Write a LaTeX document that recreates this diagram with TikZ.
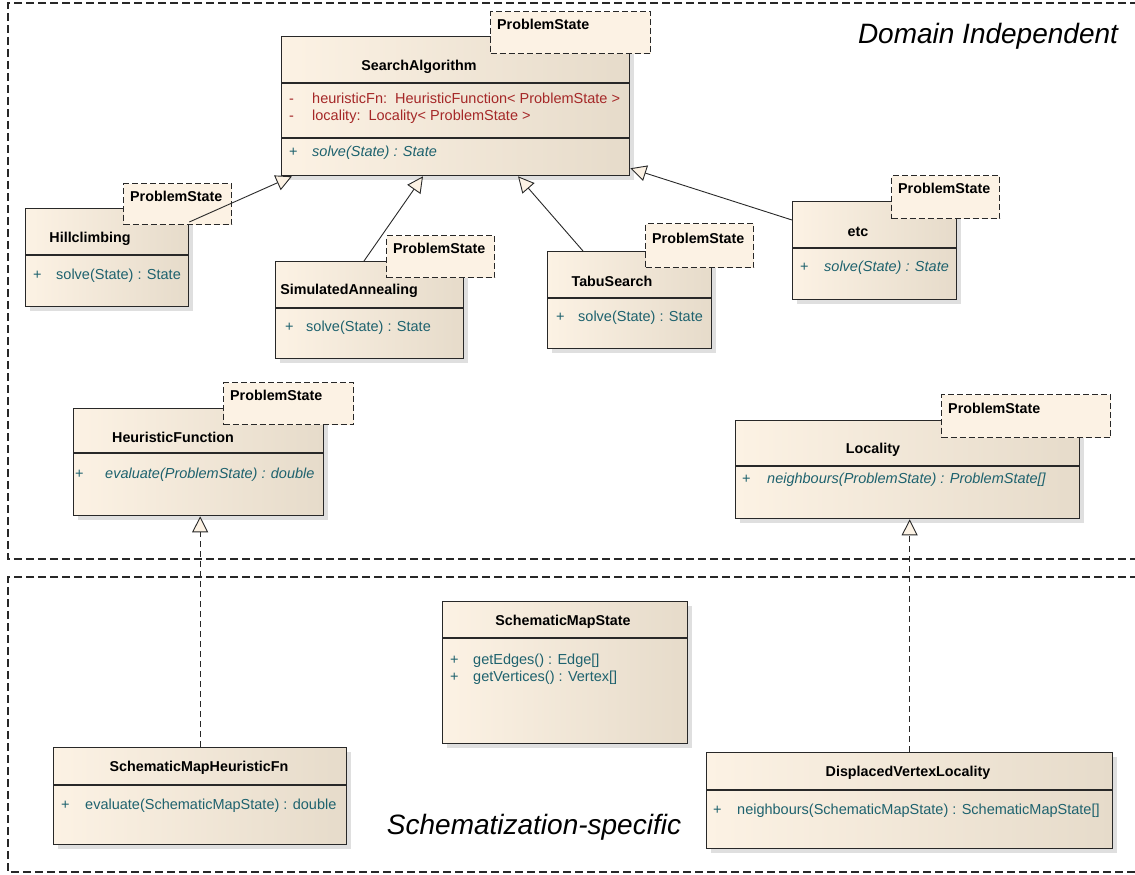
\documentclass[tikz,border=0pt]{standalone}
\usepackage{fontspec}
\setmainfont{Liberation Sans}
\usetikzlibrary{arrows.meta,shadows}
\definecolor{classfill}{RGB}{252,242,228}
\definecolor{classshade}{RGB}{230,219,202}
\definecolor{attrcol}{RGB}{165,40,40}
\definecolor{opcol}{RGB}{30,98,110}
\definecolor{edgecol}{RGB}{40,40,40}
\tikzset{
  classbox/.style={draw=edgecol, line width=1.3pt, left color=classfill, right color=classshade,
    anchor=north west, inner sep=0pt, drop shadow={shadow xshift=4pt, shadow yshift=-4pt, fill=black!25}},
  tmplbox/.style={draw=edgecol, dash pattern=on 6pt off 3pt, line width=1.3pt, fill=classfill,
    anchor=north west, inner sep=0pt},
  tmpltext/.style={font=\bfseries\fontsize{14.3}{16}\selectfont, anchor=west, inner sep=0pt},
  classname/.style={font=\bfseries\fontsize{14.3}{16}\selectfont, inner sep=0pt},
  attrline/.style={text=attrcol, font=\fontsize{14.5}{16}\selectfont, anchor=west, inner sep=0pt},
  opline/.style={text=opcol, font=\fontsize{14.5}{16}\selectfont, anchor=west, inner sep=0pt},
  sepline/.style={draw=edgecol, line width=1.3pt},
  inherit/.style={draw=edgecol, line width=0.9pt, -{Triangle[length=16pt, width=16pt, fill=classfill]}},
  realize/.style={inherit, dash pattern=on 6pt off 4pt},
  pkgframe/.style={draw=edgecol, line width=1.4pt, dash pattern=on 8pt off 4pt},
  pkglabel/.style={font=\itshape\fontsize{28}{32}\selectfont, inner sep=0pt}
}
\begin{document}
\begin{tikzpicture}[x=1pt, y=-1pt]
  \useasboundingbox (0,0) rectangle (1135,875);
  \draw[pkgframe] (1150,3) -- (8,3) -- (8,559) -- (1150,559);
  \draw[pkgframe] (1150,577) -- (8,577) -- (8,872) -- (1150,872);
  \node[pkglabel] (domlabel) at (988,36) {Domain Independent};
  \node[pkglabel] (speclabel) at (534,827) {Schematization-specific};

  \node[classbox, minimum width=348, minimum height=139] (search) at (281,36) {};
  \draw[sepline] ([yshift=-47pt]search.north west) -- ([yshift=-47pt]search.north east);
  \draw[sepline] ([yshift=-102pt]search.north west) -- ([yshift=-102pt]search.north east);
  \node[classname] (searchname) at (419,67) {SearchAlgorithm};
  \node[attrline] (searchattr1) at (289,98) {\makebox[23pt][l]{-}heuristicFn:\ \ HeuristicFunction< ProblemState >};
  \node[attrline] (searchattr2) at (289,117) {\makebox[23pt][l]{-}locality:\ \ Locality< ProblemState >};
  \node[opline] (searchop) at (289,153) {\makebox[23pt][l]{+}\textit{solve(State) : State}};
  \node[tmplbox, minimum width=160, minimum height=42] (searcht) at (490,11) {};
  \node[tmpltext] (searchtt) at (497,24) {ProblemState};

  \node[classbox, minimum width=163, minimum height=98] (hill) at (25,208) {};
  \draw[sepline] ([yshift=-47pt]hill.north west) -- ([yshift=-47pt]hill.north east);
  \node[classname] (hillname) at (90,239) {Hillclimbing};
  \node[opline] (hillop) at (33,276) {\makebox[23pt][l]{+}solve(State) : State};
  \node[tmplbox, minimum width=108, minimum height=41] (hillt) at (123,183) {};
  \node[tmpltext] (hilltt) at (130,196) {ProblemState};

  \node[classbox, minimum width=188, minimum height=97] (simann) at (275,261) {};
  \draw[sepline] ([yshift=-47pt]simann.north west) -- ([yshift=-47pt]simann.north east);
  \node[classname] (simannname) at (349,291) {SimulatedAnnealing};
  \node[opline] (simannop) at (285,328) {\makebox[21pt][l]{+}solve(State) : State};
  \node[tmplbox, minimum width=108, minimum height=42] (simannt) at (386,235) {};
  \node[tmpltext] (simanntt) at (393,248) {ProblemState};

  \node[classbox, minimum width=164, minimum height=97] (tabu) at (547,251) {};
  \draw[sepline] ([yshift=-47pt]tabu.north west) -- ([yshift=-47pt]tabu.north east);
  \node[classname] (tabuname) at (612,281) {TabuSearch};
  \node[opline] (tabuop) at (556,318) {\makebox[22pt][l]{+}solve(State) : State};
  \node[tmplbox, minimum width=108, minimum height=44] (tabut) at (645,223) {};
  \node[tmpltext] (tabutt) at (652,238) {ProblemState};

  \node[classbox, minimum width=164, minimum height=98] (etc) at (792,201) {};
  \draw[sepline] ([yshift=-47pt]etc.north west) -- ([yshift=-47pt]etc.north east);
  \node[classname] (etcname) at (858,232) {etc};
  \node[opline] (etcop) at (800,268) {\makebox[24pt][l]{+}\textit{solve(State) : State}};
  \node[tmplbox, minimum width=108, minimum height=43] (etct) at (891,175) {};
  \node[tmpltext] (etctt) at (898,188) {ProblemState};

  \node[classbox, minimum width=250, minimum height=107] (heur) at (73,408) {};
  \draw[sepline] ([yshift=-45pt]heur.north west) -- ([yshift=-45pt]heur.north east);
  \node[classname] (heurname) at (173,437) {HeuristicFunction};
  \node[opline] (heurop) at (75,475) {\makebox[30pt][l]{+}\textit{evaluate(ProblemState) : double}};
  \node[tmplbox, minimum width=130, minimum height=42] (heurt) at (223,382) {};
  \node[tmpltext] (heurtt) at (230,395) {ProblemState};

  \node[classbox, minimum width=344, minimum height=98] (loc) at (735,420) {};
  \draw[sepline] ([yshift=-46pt]loc.north west) -- ([yshift=-46pt]loc.north east);
  \node[classname] (locname) at (873,450) {Locality};
  \node[opline] (locop) at (742,480) {\makebox[25pt][l]{+}\textit{neighbours(ProblemState) : ProblemState[]}};
  \node[tmplbox, minimum width=169, minimum height=43] (loct) at (941,394) {};
  \node[tmpltext] (loctt) at (948,408) {ProblemState};

  \node[classbox, minimum width=245, minimum height=142] (mapstate) at (442,601) {};
  \draw[sepline] ([yshift=-37pt]mapstate.north west) -- ([yshift=-37pt]mapstate.north east);
  \node[classname] (mapstatename) at (563,622) {SchematicMapState};
  \node[opline] (mapstateop1) at (450,661) {\makebox[23pt][l]{+}getEdges() : Edge[]};
  \node[opline] (mapstateop2) at (450,678) {\makebox[23pt][l]{+}getVertices() : Vertex[]};

  \node[classbox, minimum width=293, minimum height=97] (mapheur) at (53,747) {};
  \draw[sepline] ([yshift=-38pt]mapheur.north west) -- ([yshift=-38pt]mapheur.north east);
  \node[classname] (mapheurname) at (199,768) {SchematicMapHeuristicFn};
  \node[opline] (mapheurop) at (61,806) {\makebox[24pt][l]{+}evaluate(SchematicMapState) : double};

  \node[classbox, minimum width=406, minimum height=96] (dispvert) at (706,752) {};
  \draw[sepline] ([yshift=-38pt]dispvert.north west) -- ([yshift=-38pt]dispvert.north east);
  \node[classname] (dispvertname) at (908,773) {DisplacedVertexLocality};
  \node[opline] (dispvertop) at (713,811) {\makebox[24pt][l]{+}neighbours(SchematicMapState) : SchematicMapState[]};

  \begin{scope}
    \draw[inherit] ([yshift=-14pt]hill.north east) to ([xshift=11pt]search.south west);
    \draw[inherit] ([xshift=89pt]simann.north west) to ([xshift=142pt]search.south west);
    \draw[inherit] ([xshift=36pt]tabu.north west) to ([xshift=237pt]search.south west);
    \draw[inherit] ([yshift=-19pt]etc.north west) to ([yshift=8pt]search.south east);
    \draw[realize] (mapheur.north) to (mapheur.north |- heur.south);
    \draw[realize] (dispvert.north) to (dispvert.north |- loc.south);
  \end{scope}
\end{tikzpicture}
\end{document}
